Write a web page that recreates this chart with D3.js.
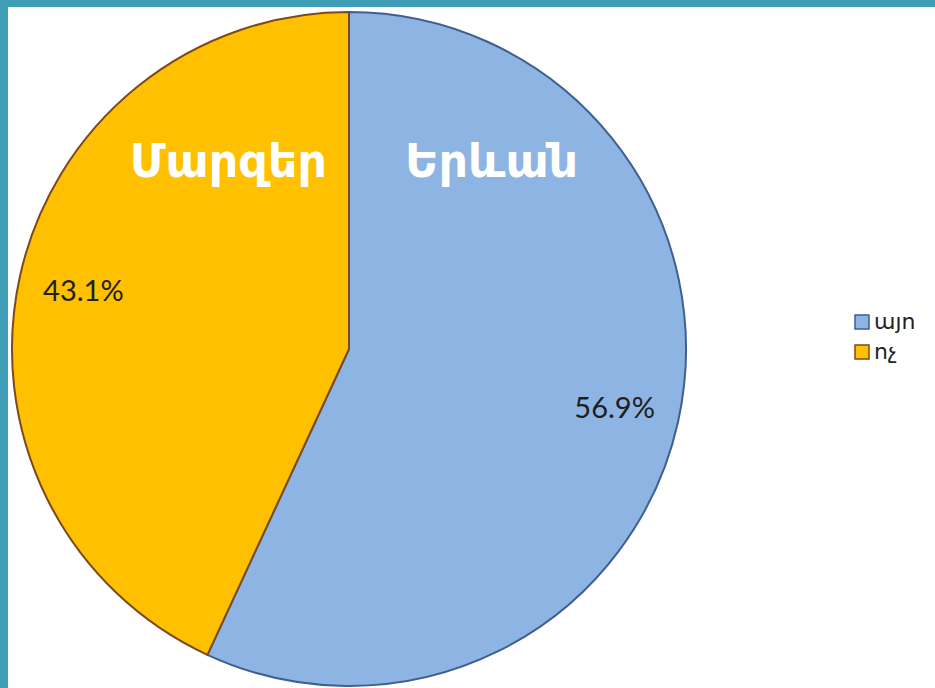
<!DOCTYPE html>
<html>
<head>
<meta charset="utf-8">
<script src="https://cdn.jsdelivr.net/npm/d3@7"></script>
<style>
  body { margin: 0; background: #fff; }
  svg { display: block; }
</style>
</head>
<body>
<script>
// data
let categories = ['այո', 'ոչ'];
let shares = [56.9, 43.1];
let colors = ['#8eb4e3', '#ffc000'];
let strokes = ['#3f5f8f', '#7a4a1e'];
let regions = ['Մարզեր', 'Երևան'];

let width = 935;
let height = 688;
let cx = 349, cy = 349, radius = 337;

let svg = d3.select('body')
    .append('svg')
    .attr('width', width)
    .attr('height', height);

// teal frame on top and left
svg.append('rect').attr('x', 0).attr('y', 0).attr('width', width).attr('height', height).attr('fill', '#fff');
svg.append('rect').attr('x', 0).attr('y', 0).attr('width', width).attr('height', 7).attr('fill', '#409db6');
svg.append('rect').attr('x', 0).attr('y', 0).attr('width', 8).attr('height', height).attr('fill', '#409db6');

let plot = svg.append('g').attr('transform', `translate(${cx},${cy})`);

let pie = d3.pie().sort(null).value(d => d);
let arcs = pie(shares);
let arc = d3.arc().innerRadius(0).outerRadius(radius);
let labelArc = d3.arc().innerRadius(272).outerRadius(272);

plot.selectAll('path.slice').data(arcs)
    .join('path')
    .attr('class', 'slice')
    .attr('d', arc)
    .attr('fill', (d, i) => colors[i])
    .attr('stroke', (d, i) => strokes[i])
    .attr('stroke-width', 2);

plot.selectAll('text.pct').data(arcs)
    .join('text')
    .attr('class', 'pct')
    .attr('transform', d => `translate(${labelArc.centroid(d)})`)
    .attr('text-anchor', 'middle')
    .attr('dy', '0.35em')
    .style('font-family', 'Lato, "Open Sans", sans-serif')
    .style('font-size', '29px')
    .style('fill', '#1e1e1e')
    .text(d => d3.format('.1f')(d.data) + '%');

// region captions either side of the dividing line
plot.selectAll('text.region').data(regions)
    .join('text')
    .attr('class', 'region')
    .attr('x', (d, i) => i === 0 ? -22 : 56)
    .attr('y', -172)
    .attr('text-anchor', (d, i) => i === 0 ? 'end' : 'start')
    .style('font-family', '"Noto Sans", "DejaVu Sans", sans-serif')
    .style('font-weight', '600')
    .style('font-size', '46px')
    .style('fill', '#fff')
    .text(d => d);

// legend
let legend = svg.append('g').attr('transform', 'translate(855,315)');
let items = legend.selectAll('g').data(categories)
    .join('g')
    .attr('transform', (d, i) => `translate(0,${i * 30})`);
items.append('rect')
    .attr('width', 14).attr('height', 14)
    .attr('fill', (d, i) => colors[i])
    .attr('stroke', (d, i) => strokes[i])
    .attr('stroke-width', 1.5);
items.append('text')
    .attr('x', 19).attr('y', 14)
    .style('font-family', '"Noto Sans", "DejaVu Sans", sans-serif')
    .style('font-size', '22px')
    .style('fill', '#222')
    .text(d => d);
</script>
</body>
</html>
